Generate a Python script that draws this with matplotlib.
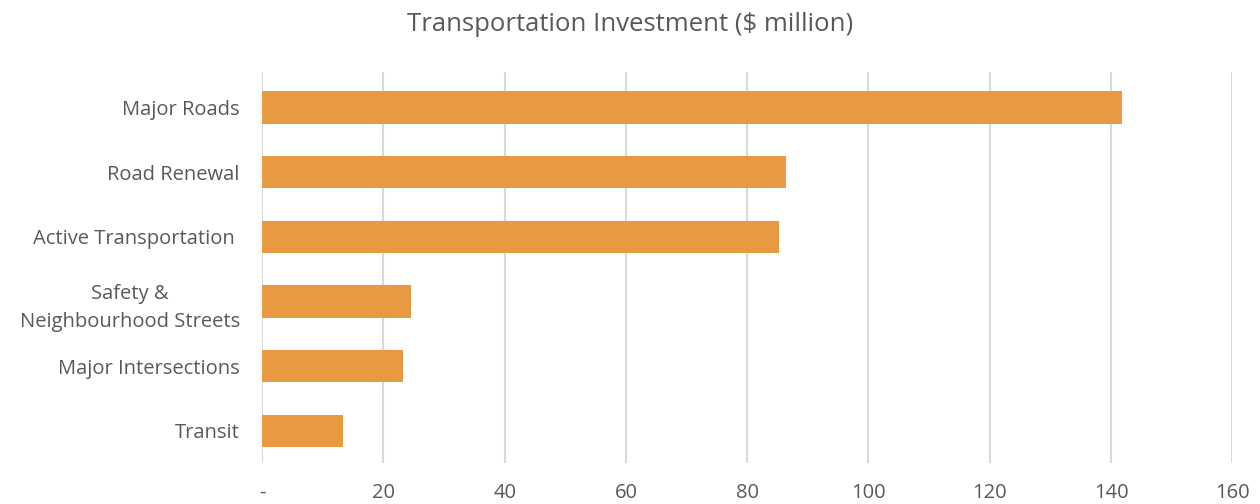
import numpy as np
import matplotlib.pyplot as plt

categories = ["Major Roads", "Road Renewal", "Active Transportation ",
              "Safety &\nNeighbourhood Streets", "Major Intersections", "Transit"]
values = [141.8, 86.4, 85.3, 24.5, 23.3, 13.4]
xticks = [0, 20, 40, 60, 80, 100, 120, 140, 160]
xticklabels = ["-", "20", "40", "60", "80", "100", "120", "140", "160"]

plt.rcParams['font.family'] = ['Open Sans', 'DejaVu Sans']
text_col = "#595959"

fig = plt.figure(figsize=(12.6, 5.04), dpi=100)
ax = fig.add_axes([0.208, 0.081, 0.77, 0.776])

y = np.arange(len(categories))
ax.barh(y, values, height=0.5, color="#E89A41", zorder=3)

ax.set_xlim(0, 160)
ax.set_ylim(len(categories) - 0.5, -0.55)
ax.set_xticks(xticks)
ax.set_xticklabels(xticklabels)
ax.set_yticks(y)
ax.set_yticklabels(categories, ha="right", multialignment="center", linespacing=1.5)
ax.tick_params(axis="y", pad=16, length=0, labelsize=14.5, labelcolor=text_col)
ax.tick_params(axis="x", pad=14, length=0, labelsize=14.5, labelcolor=text_col)

ax.grid(axis="x", color="#D9D9D9", linewidth=1.5, zorder=0)
for s in ax.spines.values():
    s.set_visible(False)

fig.text(0.5, 0.952, "Transportation Investment ($ million)", ha="center", va="center",
         fontsize=18.5, color=text_col)

fig.savefig("out.png", dpi=100)
